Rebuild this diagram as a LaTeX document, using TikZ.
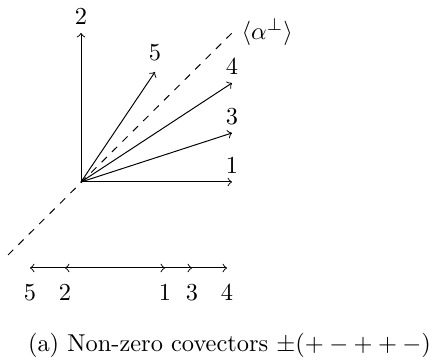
\documentclass[tikz,border=0pt]{standalone}
\usetikzlibrary{positioning}

\begin{document}
\begin{tikzpicture}[scale=0.72]
        \useasboundingbox (-1.62,-3.6) rectangle (7.02,3.64);
        % covectors in the plane
        \coordinate (O) at (0,0);
        \coordinate (c1) at (3.02,0);
        \coordinate (c2) at (0,2.98);
        \coordinate (c3) at (3.02,0.98);
        \coordinate (c4) at (3.02,1.98);
        \coordinate (c5) at (1.48,2.2);
        \coordinate (d0) at (-1.46,-1.46);
        \coordinate (d1) at (3.04,3);
        \draw[dashed] (d0) -- (d1);
        \foreach \i in {1,...,5}
          \draw[->] (O) -- (c\i);
        \node[above] (l1) at (c1) {$1$};
        \node[above] (l2) at (c2) {$2$};
        \node[above] (l3) at (c3) {$3$};
        \node[above] (l4) at (c4) {$4$};
        \node[above=1pt] (l5) at (c5) {$5$};
        \node[right] (la) at (d1) {$\langle\alpha^\perp\rangle$};
        % the line
        \coordinate (o) at (0.68,-1.72);
        \coordinate (b5) at (-1.02,-1.72);
        \coordinate (b2) at (-0.32,-1.72);
        \coordinate (b1) at (1.68,-1.72);
        \coordinate (b3) at (2.22,-1.72);
        \coordinate (b4) at (2.92,-1.72);
        \foreach \i in {1,...,5}
          \draw[->] (o) -- (b\i);
        \foreach \i in {1,...,5}
          \node[below=3.3pt] (m\i) at (b\i) {$\i$};
        \node (cap) at (2.97,-3.26) {(a) Non-zero covectors $\pm(+-++-)$};
      \end{tikzpicture}
\end{document}
